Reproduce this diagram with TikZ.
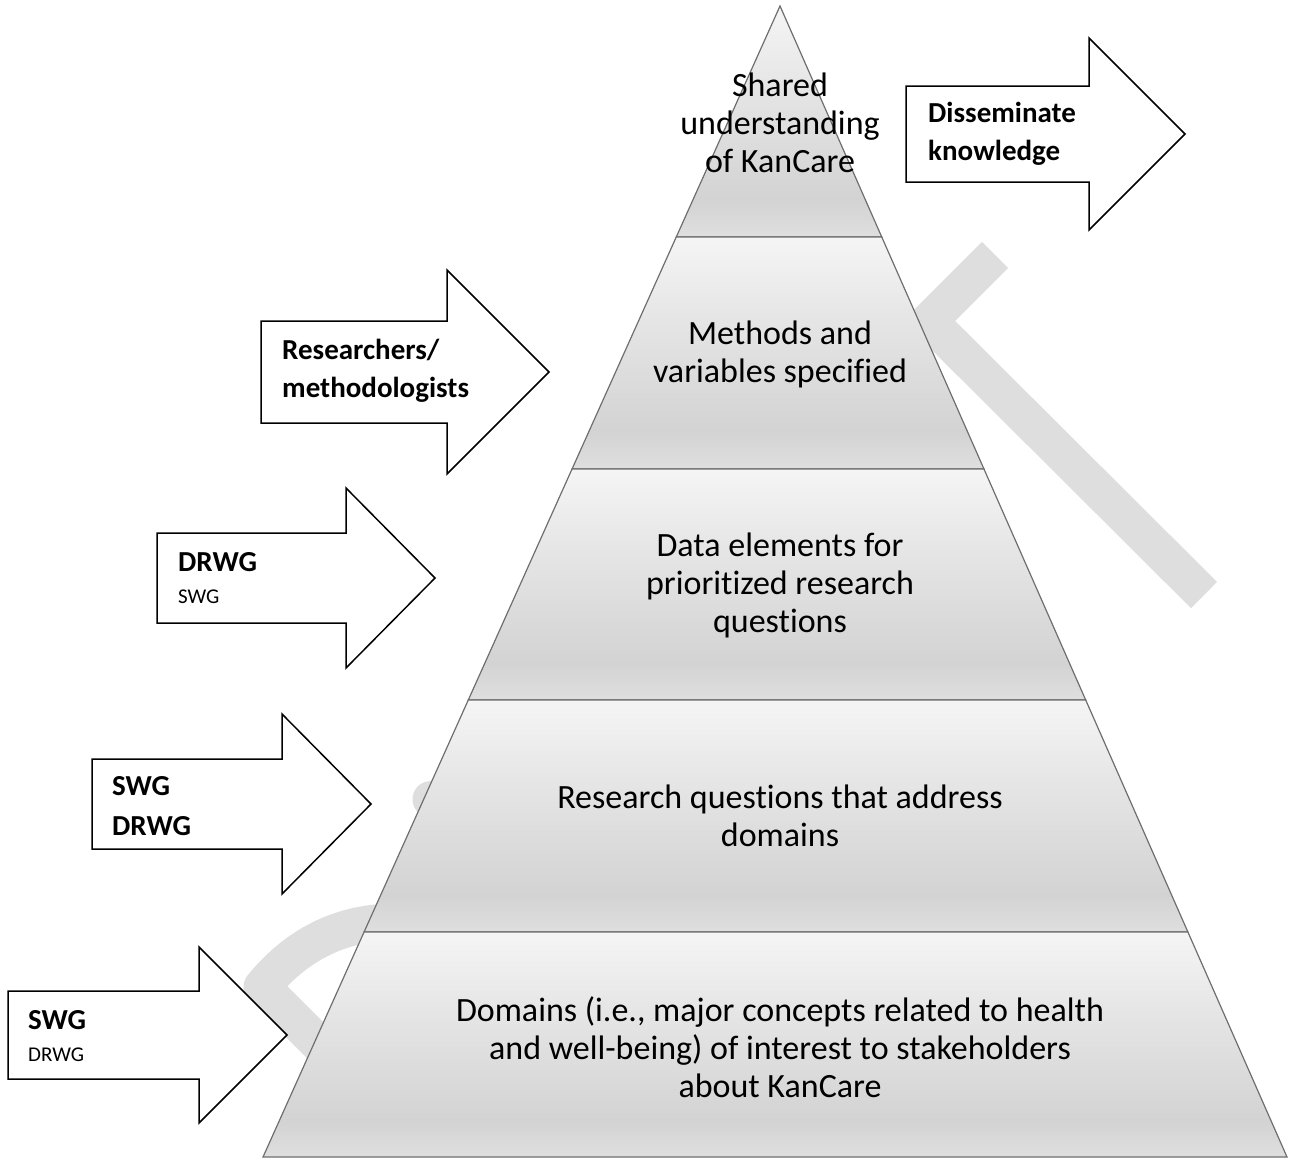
\documentclass[tikz,border=0pt]{standalone}
\usepackage{fontspec}
\setmainfont{Carlito}[Ligatures=NoCommon]
\usetikzlibrary{calc}
\definecolor{edgegrey}{HTML}{6E6E6E}
\definecolor{markgrey}{HTML}{DEDEDE}
\definecolor{gradtop}{HTML}{F5F5F5}
\definecolor{gradmid}{HTML}{E6E6E6}
\definecolor{graddark}{HTML}{D3D3D3}
\definecolor{gradlow}{HTML}{DFDFDF}
\pgfdeclareverticalshading{layergrad}{100bp}{color(0bp)=(gradlow); color(25bp)=(gradlow); color(33bp)=(graddark); color(58bp)=(gradmid); color(75bp)=(gradtop); color(100bp)=(gradtop)}
\tikzset{
  layer/.style={shade, shading=layergrad, draw=edgegrey, line width=1.2pt},
  layertext/.style={align=center, inner sep=0pt, font=\fontsize{34}{38}\selectfont},
  arrowbody/.style={draw=black, fill=white, line width=1.5pt, line join=miter},
  armlabel/.style={align=left, anchor=west, inner sep=0pt, font=\bfseries\fontsize{29}{38}\selectfont},
  mixlabel/.style={armlabel, font=\fontsize{29}{32}\selectfont},
  watermark/.style={draw=markgrey, line width=37pt}
}
\newcommand{\blockarrow}[5]{\draw[arrowbody] (#1,#2-#5) -- (#3,#2-#5) -- (#3,#2-2*#5) -- (#4,#2) -- (#3,#2+2*#5) -- (#3,#2+#5) -- (#1,#2+#5) -- cycle;}

\begin{document}
\begin{tikzpicture}[x=1pt, y=-1pt]
\useasboundingbox (0,0) rectangle (1289,1165);
\draw[watermark] (995,255) -- (860,390);
\draw[watermark] (929,321) -- (1204,595);
\draw[watermark, line join=round] (345,1070) -- (262,987) .. controls (292,950) and (335,922) .. (395,922);
\draw[watermark, line cap=round] (431,799) -- (480,799);
\coordinate (apex) at (780,6);
\coordinate (bl) at (263,1157);
\coordinate (br) at (1287,1157);
\foreach \t [count=\i] in {0.2007,0.4023,0.6030,0.8045}{
  \coordinate (l\i) at ($(apex)!\t!(bl)$);
  \coordinate (r\i) at ($(apex)!\t!(br)$);
}
\draw[layer] (apex) -- (r1) -- (l1) -- cycle;
\draw[layer] (l1) -- (r1) -- (r2) -- (l2) -- cycle;
\draw[layer] (l2) -- (r2) -- (r3) -- (l3) -- cycle;
\draw[layer] (l3) -- (r3) -- (r4) -- (l4) -- cycle;
\draw[layer] (l4) -- (r4) -- (br) -- (bl) -- cycle;
\node[layertext] (shared) at (780,123) {Shared\\understanding\\of KanCare};
\node[layertext] (methods) at (780,354) {Methods and\\variables specified};
\node[layertext] (elements) at (780,585) {Data elements for\\prioritized research\\questions};
\node[layertext] (questions) at (780,816) {Research questions that address\\domains};
\node[layertext] (domains) at (780,1047) {Domains (i.e., major concepts related to health\\and well-being) of interest to stakeholders\\about KanCare};
\blockarrow{906}{134}{1089}{1185}{48}
\blockarrow{261}{372}{447}{549}{51}
\blockarrow{157}{578}{346}{435}{45}
\blockarrow{92}{804}{282}{371}{45}
\blockarrow{8}{1035}{199}{287}{44}
\node[armlabel] (dissem) at (928,134) {Disseminate\\knowledge};
\node[armlabel] (researchers) at (282,371) {Researchers/\\methodologists};
\node[mixlabel] (drwgtop) at (178,578) {\textbf{DRWG}\\{\fontsize{21}{24}\selectfont SWG}};
\node[armlabel, font=\bfseries\fontsize{29}{40}\selectfont] (swgboth) at (112,806) {SWG\\DRWG};
\node[mixlabel] (swgbottom) at (28,1036) {\textbf{SWG}\\{\fontsize{21}{24}\selectfont DRWG}};
\end{tikzpicture}
\end{document}
